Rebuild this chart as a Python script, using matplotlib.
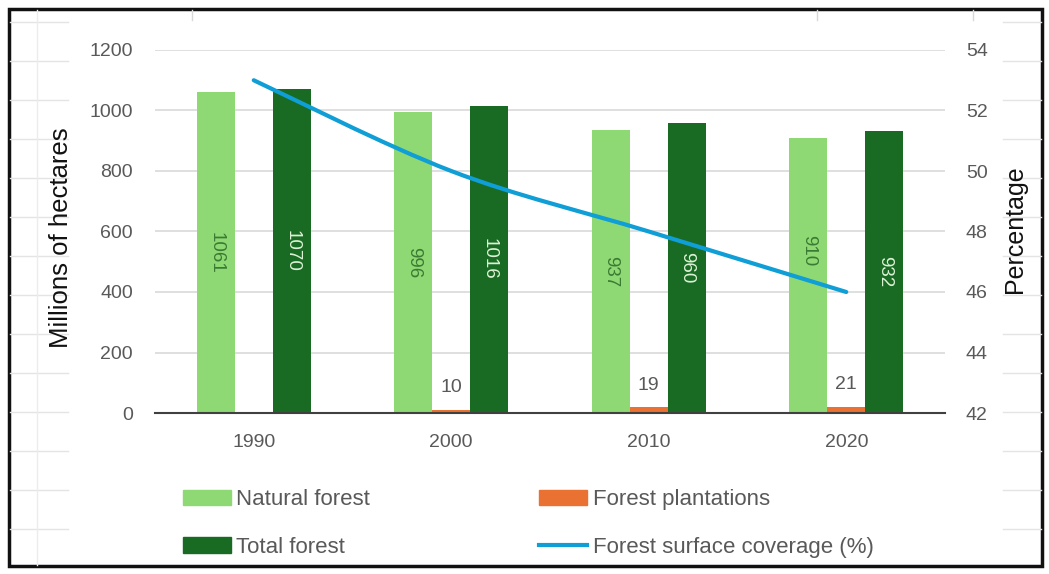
import matplotlib
matplotlib.use("Agg")
import matplotlib.pyplot as plt
import numpy as np
from matplotlib.lines import Line2D
from matplotlib.patches import Patch, Rectangle, PathPatch
from matplotlib.path import Path

# Data
years = ["1990", "2000", "2010", "2020"]
natural_forest = [1061, 996, 937, 910]
plantations = [0, 10, 19, 21]
total_forest = [1070, 1016, 960, 932]
coverage_pct = [53, 50, 48, 46]

c_natural = "#8ED973"
c_plant = "#E97132"
c_total = "#196B24"
c_line = "#0F9ED5"
c_text = "#595959"

plt.rcParams["font.family"] = ["Liberation Sans", "DejaVu Sans"]

fig = plt.figure(figsize=(10.49, 5.74), dpi=100)
W, H = 1049, 574

# spreadsheet cell lines behind the chart
bg = fig.add_axes([0, 0, 1, 1])
bg.set_xlim(0, W)
bg.set_ylim(H, 0)
bg.axis("off")
for y in np.arange(22, 560, 39):
    bg.plot([10, 68], [y, y], color="#e4e4e4", lw=1)
    bg.plot([1003, 1041], [y, y], color="#e4e4e4", lw=1)
bg.plot([37, 37], [10, 565], color="#ececec", lw=1)
for x in [192, 817, 973]:
    bg.plot([x, x], [10, 20], color="#d8d8d8", lw=1)
bg.add_patch(Rectangle((9, 9), 1033, 557, fill=False, ec="#111111", lw=2.5))

ax = fig.add_axes([155 / W, (H - 413) / H, 790 / W, 363 / H])
x = np.arange(len(years))
bw = 0.192

b_nat = ax.bar(x - bw, natural_forest, bw, color=c_natural, zorder=2)
b_pla = ax.bar(x, plantations, bw, color=c_plant, zorder=2)
b_tot = ax.bar(x + bw, total_forest, bw, color=c_total, zorder=2)

ax.set_xlim(-0.5, len(years) - 0.5)
ax.set_ylim(0, 1200)
ax.set_yticks(range(0, 1201, 200))
ax.set_xticks(x)
ax.set_xticklabels(years)
ax.grid(axis="y", color="#d9d9d9", lw=1.2, zorder=0)
ax.set_axisbelow(True)
for s in ["top", "right", "left"]:
    ax.spines[s].set_visible(False)
ax.spines["bottom"].set_color("#404040")
ax.spines["bottom"].set_linewidth(1.5)
ax.spines["bottom"].set_zorder(3)
ax.tick_params(axis="both", length=0, labelsize=14, labelcolor=c_text)
ax.tick_params(axis="y", pad=16)
ax.tick_params(axis="x", pad=15)

ax2 = ax.twinx()
ax2.set_ylim(42, 54)
ax2.set_yticks(range(42, 55, 2))
for s in ax2.spines.values():
    s.set_visible(False)
ax2.tick_params(axis="y", length=0, labelsize=14, labelcolor=c_text, pad=15)

# smoothed coverage line (cubic Bezier segments through the points)
px = x.astype(float)
py = np.array(coverage_pct, dtype=float)
verts = [(px[0], py[0])]
codes = [Path.MOVETO]
for i in range(len(px) - 1):
    p0 = (px[max(i - 1, 0)], py[max(i - 1, 0)])
    p1 = (px[i], py[i])
    p2 = (px[i + 1], py[i + 1])
    p3 = (px[min(i + 2, len(px) - 1)], py[min(i + 2, len(px) - 1)])
    c1 = (p1[0] + (p2[0] - p0[0]) / 6, p1[1] + (p2[1] - p0[1]) / 6)
    c2 = (p2[0] - (p3[0] - p1[0]) / 6, p2[1] - (p3[1] - p1[1]) / 6)
    verts += [c1, c2, p2]
    codes += [Path.CURVE4] * 3
ax2.add_patch(PathPatch(Path(verts, codes), fill=False, ec=c_line, lw=3,
                        capstyle="round", zorder=4))

# value labels, drawn above the line
label_nudge = {3: 0.09}
for i, (rect, v) in enumerate(zip(b_nat, natural_forest)):
    ax2.text(rect.get_x() + rect.get_width() / 2, v * (0.5 + label_nudge.get(i, 0)), str(v),
             rotation=-90, ha="center", va="center", color="#3B7A33", fontsize=13.5,
             transform=ax.transData, zorder=6)
for rect, v in zip(b_tot, total_forest):
    ax2.text(rect.get_x() + rect.get_width() / 2, v / 2, str(v), rotation=-90,
             ha="center", va="center", color="#DDF2D5", fontsize=13.5,
             transform=ax.transData, zorder=6)
for rect, v in zip(b_pla, plantations):
    if v > 0:
        ax2.text(rect.get_x() + rect.get_width() / 2, v + 45, str(v),
                 ha="center", va="bottom", color=c_text, fontsize=14,
                 transform=ax.transData, zorder=6)

fig.text(61 / W, 1 - 238 / H, "Millions of hectares", rotation=90,
         ha="center", va="center", fontsize=18.5, color="#111111")
fig.text(1015 / W, 1 - 229 / H, "Percentage", rotation=90,
         ha="center", va="center", fontsize=18, color="#111111")

handles = [Patch(color=c_natural), Patch(color=c_total),
           Patch(color=c_plant), Line2D([], [], color=c_line, lw=3)]
labels = ["Natural forest", "Total forest", "Forest plantations",
          "Forest surface coverage (%)"]
fig.legend(handles, labels, loc="upper left", bbox_to_anchor=(172 / W, 1 - 478 / H),
           ncol=2, frameon=False, fontsize=16, labelcolor=c_text,
           handlelength=2.15, handleheight=0.7, handletextpad=0.25,
           columnspacing=7.6, labelspacing=1.2, borderpad=0)

fig.savefig("out.png", dpi=100)
